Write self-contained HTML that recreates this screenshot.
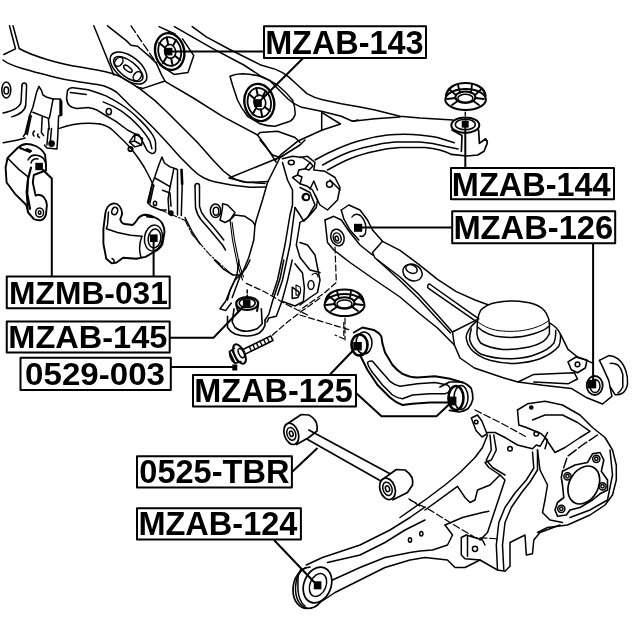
<!DOCTYPE html>
<html><head><meta charset="utf-8">
<style>
html,body{margin:0;padding:0;background:#fff;}
body{width:640px;height:640px;position:relative;overflow:hidden;}
svg{position:absolute;left:0;top:0;display:block;will-change:transform;}
text{font-family:"Liberation Sans",sans-serif;font-weight:bold;fill:#000;stroke:none;}
</style></head><body>
<svg width="640" height="640" viewBox="0 0 640 640" fill="none" stroke="#000" stroke-width="1.5" stroke-linecap="round" stroke-linejoin="round">
<!-- top-left rail end -->
<path d="M9.5,25.8 L15.5,48.8 L3.8,54.5"/>
<path d="M13,25.8 L19.2,48.5 C32,56 60,64 80,67 C92,69 101,70.5 111.3,73.3 C119,75.5 126,79.5 131.6,83.4 L141,89.7 L155,100.6 L167.5,112.5 L182.5,127.5 L197.5,142.5 L212.5,159.5 L223.4,171 L231.3,177.2 C236,180 240,181.5 243.8,181.9 L265,183.5"/>
<path d="M3,60 C10,66 30,71 56,77.5 C68,80.5 74,81 80,82 C90,83.5 97,84 103.4,85.8 C110,88 114,90 118,93.5 L130,105.5 L142.5,117 L155,129.5 L167.5,143 L180,157 L192.5,169.5 C197,174 200,176 204,178 C208,180 212,181.3 215.6,182 L231.3,185 L250,187.3 L266,187"/>
<path d="M93.8,25.8 L113.8,75"/>
<!-- ring -->
<ellipse cx="6.3" cy="90" rx="4.5" ry="8"/>
<ellipse cx="6.3" cy="90.5" rx="2.3" ry="3.6"/>
<!-- J curves -->
<path d="M21.9,86 C22,82 26.5,82 26.6,86 L25.8,104.4 C25.5,110 20,114.5 11.7,116.9"/>
<path d="M21.9,86 L21.1,101.3 C20.5,107 14,110.5 3.1,113"/>
<!-- bracket 1 -->
<path d="M23.4,136.4 L25,134 L29.7,115.3 L32.8,107.5 L36.7,91.9 L39,86.4 L41.4,90.3 L43,95 L46.9,97.3 L53.1,98.9 L60.2,98.9 L61.7,101.3 L61.7,115.3 L58.6,116 L57.8,135.6 L57,149 L46.9,148 L44.5,145"/>
<path d="M60.3,100 L60.3,115" stroke-width="2"/>
<path d="M53.1,98.9 L50,115.3 L49.2,118.4"/>
<path d="M29.7,115.3 L25.8,134 M31.2,115.8 L27.3,134.5"/>
<path d="M32.8,112.2 L48.4,118.4 L49.2,129.4"/>
<path d="M42.2,116.9 L41.4,132.5 L43.7,135.6"/>
<path d="M48.4,128.6 L46.9,145 M51.5,128.6 L50,145"/>
<circle cx="51.6" cy="143.6" r="2.6" fill="#000"/>
<path d="M34.5,131 C32.5,132 32.5,134.5 34,136 M38,134 C37,135.5 38,137 39.5,137.5"/>
<path d="M58.6,128.6 C70,124.5 83,122 100,124"/>
<path d="M3.1,142.7 C10,141.5 18,140.5 25,138"/>
<!-- guard piece -->
<path d="M67.5,90.6 C69,88 71,87.6 73.1,87.8 L88.1,89.7 C95,91.5 101,94 106.9,96.3 C114,100 120,103.5 125.6,107.5 C131,111.5 136,116 140.6,120.6 C145,125 149,129.5 151.9,133.8 C154,137 155.6,140 155.6,143.1 L155.6,150.6 C155,153 153.5,153.6 151.9,153.4 C150,153 148.5,152 147.2,150.6 L142.5,141.3 L138.8,134.7 L135,133.8"/>
<path d="M67.5,90.6 L66.6,98.1 C66.8,101.5 67.8,104 69.4,105.6 C71.5,107.5 74,108.2 76.9,108.4 L88.1,107.5 C91.5,108 94.5,109 97.5,110.3 L105,115 L116.3,121.6 L127.5,130 L135,133.8"/>
<path d="M103.1,101.9 C110,104.5 116,107.5 121.9,111.3 C128,115.5 133.5,120.5 138.8,126.3 C143,131 147,136 150,141.3 L151.9,148.8"/>
<path d="M70.3,92.5 L86.3,94.4"/>
<ellipse cx="108.8" cy="111.6" rx="2.6" ry="3.2"/>
<path d="M135,133.8 L142.5,138.4 L141.6,145 L135,146.9 L129.4,142.2 Z M135,133.8 L134.5,141 L141.6,145 M134.5,141 L129.4,142.2"/>
<circle cx="130.5" cy="149" r="2.2" stroke-width="1.8"/>
<!-- wheel-arch curve -->
<path d="M100,124 C106,125 112,129 116.3,133.8 C122,139 127,144 131.3,148.8 C136,155 140.5,161 144.4,167.5 C148,174 151,180 153.8,186.3"/>
<!-- lines top near bushing1 -->
<path d="M107.5,25.8 L126.3,40.6 L131,45.3 L137.5,46.3 L149.7,56.6 L156.3,63.1 L161.3,74.4 L165,81 L143.1,88.4 L137,87"/>
<path d="M131,25.8 L156.3,63" stroke-dasharray="8 3" stroke-width="1.3"/>
<path d="M159,26.6 L175,34"/>
<!-- mount plate oval -->
<g transform="translate(128.5,68) rotate(38)">
<ellipse rx="21.5" ry="11.5"/>
<ellipse rx="17.5" ry="8" cx="0.5" cy="1"/>
<ellipse cx="-11.5" cy="1" rx="3.6" ry="5"/>
<ellipse cx="12" cy="1" rx="3.6" ry="5"/>
<ellipse cx="0" cy="1" rx="5" ry="2.2"/>
</g>
<!-- bushing 1 -->
<path d="M182.5,38.8 L193.8,55.6 L188,72.5 L174,74.4 L160,65"/>
<g transform="translate(169.7,51.5) rotate(-12)">
<ellipse rx="14.5" ry="18.5" stroke-width="2.4"/>
<ellipse rx="11.3" ry="14.5" stroke-width="1.8"/>
<ellipse rx="5.5" ry="7.0" stroke-width="1.6" cx="0.5"/>
<path d="M-4,-5 L-8.5,-10.5 M4.5,-5 L8.5,-10 M-4.5,5 L-9,10 M4.5,5.5 L8.5,10.5 M0,-7 L0,-14.5 M0,7 L0,14.5" stroke-width="2"/>
</g>
<rect x="164.6" y="47.8" width="7.8" height="7.6" fill="#000" stroke="none"/>
<!-- bushing 2 -->
<path d="M230,76.3 C234,74.5 238,73.8 242.5,73.8 C249,74 255,75 260,76.3 C266,78.5 272,81.5 277.5,85 C283,89.5 288,94.5 292.5,100 C294.5,105 295.5,110 295,115 C294,118 292.5,120 290,121.3 L275,126.3 C270,126.3 265,125.5 260,123.8 L247.5,116.3 C243.5,111 240,105.5 237.5,100 L232.5,85 Z"/>
<g transform="translate(259.3,102.5) rotate(-12)">
<ellipse rx="14.8" ry="18.8" stroke-width="2.4"/>
<ellipse rx="11.600000000000001" ry="14.8" stroke-width="1.8"/>
<ellipse rx="5.800000000000001" ry="7.300000000000001" stroke-width="1.6" cx="0.5"/>
<path d="M-4,-5 L-8.5,-10.5 M4.5,-5 L8.5,-10 M-4.5,5 L-9,10 M4.5,5.5 L8.5,10.5 M0,-7 L0,-14.5 M0,7 L0,14.5" stroke-width="2"/>
</g>
<rect x="254" y="99.2" width="7.8" height="7.8" fill="#000" stroke="none"/>
<!-- cross member top edge -->
<path d="M165,81.3 L192.5,97.5 L222.5,116.3 L257.5,135 L260,132.5 L277.5,131.3 L295,137.5 L300,142.5"/>
<path d="M257.5,135 L265,145 L272.5,156.3 L276,162"/>
<!-- rail lines -->
<!-- triangle -->
<path d="M282.5,156.3 L229,178 L247.5,182.5 L268,181.5"/>
<!-- MZMB-031 left bushing -->
<path d="M17.8,147.8 C21,145 23.5,144 26.3,144 C30,144 33,144.8 35.6,146 C40,148 43,151 45,154.4 L46,163.8 L46,170.3 L33.8,175 L32.8,182.5 L35.6,195.6 L38.4,194.7 C41,195 43,196 44,197.5 C46,200 46.9,202 46.9,205 L46,214.4 C45,217.5 43.5,219.5 41.3,220 C38,220.5 35.5,220 33.8,219 L28.1,212.5 L26.3,205 L15,193.8 L6.6,182.5 L5.6,167.5 L7.5,158 Z" stroke-width="1.9"/>
<path d="M7.5,158 L18.8,169.4 L28.1,176.9 L26.3,191.9 L28.1,212.5"/>
<path d="M31,167.5 L28.1,178.8 L27.2,193.8 L30,208.8" stroke-width="2.2"/>
<path d="M28,160 C30,156 34,154.5 38,155.5 C42,156.5 44.5,159 45,162 M31,163 C32,160 35,158.5 38,159"/>
<path d="M20,148 L30,152 M27,149 L31,151" stroke-width="2"/>
<rect x="35.3" y="162.8" width="7.6" height="7.4" fill="#000" stroke="none"/>
<ellipse cx="39.6" cy="212.5" rx="4" ry="4.6"/>
<ellipse cx="39.6" cy="212.5" rx="1.3" ry="1.8"/>
<!-- MZMB-031 right bushing -->
<path d="M105.3,213.8 C105.8,209 108.5,204 113.8,203.4 C118,203.3 121.5,207 122.2,213.8 L120.3,219.4 C121,222 122.5,223.5 125,224 L132.5,225 C135,223.5 136.5,221 138.1,218.4 C140,216 142.5,214.8 145.6,214.7 C149,214.7 152,215.8 155,217.5 C158.5,219 161,221 162.5,224 C164,227 164.6,229.5 164.4,232.5 L162.5,243.8 C161,247 158.5,249.5 155,251.3 L145.6,256.9 L136.3,258.8 L123.1,257.8 L116.6,262.5 L111.9,263.4 L106.3,258.8 L103.4,243.8 L103.4,228.8 Z" stroke-width="1.9"/>
<ellipse cx="114.7" cy="211" rx="2.8" ry="3.8" transform="rotate(20 114.7 211)"/>
<path d="M108.5,212 L107.5,225 L106.3,228.8 L117.5,232.5 L130.6,235.3 L141.9,236.3"/>
<path d="M141.9,236.3 C139,244 139,251 141,257"/>
<path d="M145.6,214.7 L150,217 M147,216.5 L153,217.2" stroke-width="2"/>
<ellipse cx="153.5" cy="238" rx="9" ry="13" transform="rotate(8 153.5 238)"/>
<ellipse cx="154.5" cy="238.5" rx="6.3" ry="9.5" transform="rotate(8 154.5 238.5)"/>
<rect x="150" y="234.4" width="7.6" height="7.6" fill="#000" stroke="none"/>
<path d="M112,258.5 C113.5,259 114.5,260.5 114,262"/>
<!-- bracket 2 -->
<path d="M166.3,210 L160.6,210 L151.3,206.3 L147.5,202.5 L152.2,183.8 L155,176.3 L158.8,165 L162,157 L164.4,163 L170,166.9 L175.6,168.8 L177.5,169.7 L177.5,215"/>
<path d="M173.8,168.8 L170,187.5 L168.1,198.8 L169,213.8 L171.9,215.6"/>
<path d="M181.5,168.8 L182.2,184.7" stroke-width="2.6" stroke-linecap="butt"/>
<path d="M182.2,184.7 L181.3,215.6"/>
<path d="M152.2,184.7 L148.4,202.5 M153.8,185.2 L150,203"/>
<path d="M155,178 L170,186.6"/>
<path d="M162.5,190.3 L170,193 L171,206.3"/>
<ellipse cx="155" cy="203.4" rx="1.6" ry="2.2"/>
<circle cx="171" cy="213" r="2" fill="#000"/>
<path d="M160.6,210 L185,220.3" stroke-dasharray="6 2 1.5 2" stroke-width="1.1"/>
<path d="M185,217.5 L192.5,232.5 L200,243.8"/>
<!-- trailing arm bracket region -->
<path d="M280,157.5 L267.5,182.5 L262.5,200 L256.3,220 L255,225"/>
<path d="M282.5,162.5 L287.5,180 L292.5,190 L292.5,205 L290,215 L285,245 L277.5,280 L272.5,295"/>
<path d="M295,207.5 L290,245 L282.5,280 L277.5,295"/>
<path d="M282.5,158.8 L292.5,156.3 L302.5,157.5 L310,162.5 L305,168.8 L298.8,170 L297.5,175 L292.5,177.5 L300,183.8 L307.5,186.3 L312.5,190 L317.5,200 L316.3,207.5 L310,215 L303.8,221.3 L300,215 L295,207.5"/>
<path d="M310,162.5 L313,166 L309,170 L305,168.8 M297.5,175 L302,177 L300,183.8"/>
<ellipse cx="291.3" cy="162.5" rx="3" ry="2.2"/>
<circle cx="305.8" cy="197" r="3.6"/>
<path d="M310,189 L313.8,181 L317.5,190"/>
<path d="M300,222.5 L296.3,245 L300,257.5 L310,270 L320,272.5"/>
<path d="M230,220 L235,215 L245,216.3 L252.5,221.3 L255,225 L253.8,240 L248.8,257.5 L242.5,272.5 L235,280 L230,290 L227.5,300"/>
<path d="M230,220 L232.5,240 L237.5,265 L242.5,280 M232,222 L234.5,240 L239.5,265 L243.5,277" stroke-width="1.1"/>
<path d="M222.5,203.8 L227.5,205 L235,212.5 L230,220 L225,222.5 L220,220 L221.3,215 L222.5,207.5 Z"/>
<ellipse cx="215.5" cy="210.8" rx="5.2" ry="6.8"/>
<ellipse cx="216" cy="211.2" rx="2.8" ry="4"/>
<path d="M195,186 C195,182.5 199.5,182.5 199.5,186 L199.5,206.3 C200.5,211 202.5,214.5 205,217.5 L213.8,227.5 L223.8,240"/>
<path d="M195,186 L195.5,207.5 C196.5,212.5 198.5,216.5 201.3,220 L210,230 L222.5,245 L225.5,250"/>
<path d="M185,220.3 L192.5,235 L210,255 L232.5,275" stroke-dasharray="7 2 1.5 2" stroke-width="1.1"/>
<path d="M260,140 L272.5,155 L280,157.5 L300,145 L305,140"/>
<path d="M312,275 C314,272 318,273 318,277 M296,285 L296,295 C300,296 302,292 300,287 Z" stroke-width="1.1"/>
<!-- upper arm -->
<path d="M315,160 C322,156 330,152 337.5,148.8 C346,145 354,142 362.5,140 C371,137.5 379,136 387.5,135 C396,134.3 404,134.2 412.5,134.5 C421,135 430,136 437.5,137.5 L454.4,142.7"/>
<path d="M322.5,165 C330,161 337,157 345,153.8 C353,150.5 362,148 370,146.3 C378,144 387,142.5 395,142 L420,142 C428,142.5 437,144 445,146.3 L458,149"/>
<path d="M327.5,170 C335,166 342,162 350,158.8 C358,155.5 367,153 375,151.3 C383,149.3 392,148 400,147.5 L425,147.5 C433,148.3 442,149.5 451.3,154.4"/>
<!-- bracket with holes right part -->
<path d="M300,157.5 L307.5,156.3 L315,162.5 L313.8,170 L325,171.3 L335,177.5 L340,187.5 L337.5,200 L327.5,210 L320,205 L315,195"/>
<circle cx="329.5" cy="184.3" r="3"/>
<!-- nut 144 -->
<ellipse cx="465.6" cy="99.5" rx="20.3" ry="10.5" stroke-width="2"/>
<path d="M446,96 C447,88 455,83 465.6,83 C476,83 485,88 485.5,96" stroke-width="2.2"/>
<ellipse cx="465.4" cy="97.3" rx="10" ry="5.8" stroke-width="2"/>
<ellipse cx="465.4" cy="98.3" rx="7.5" ry="4"/>
<path d="M450,90 L456,95 M458,85 L460,92.5 M472,84.5 L471,92.5 M481,89.5 L475,95 M447,99 L455.5,98 M484,99 L475.5,98 M452,105 L457,101.5 M479,105 L474,101.5" stroke-width="1.8"/>
<!-- bushing 144 -->
<ellipse cx="465.3" cy="125.2" rx="14" ry="7.8" stroke-width="2"/>
<ellipse cx="465.3" cy="124.5" rx="10" ry="5.3"/>
<path d="M452,130 L462,135.6 L461.4,151.3 M478.6,130 L479.4,143.4 L485.6,138.8 C487,140 487.5,141.5 487.2,143.4 L484,151.3 L477.8,155 L466.9,156 L451.3,154.4" stroke-width="1.7"/>
<path d="M465.3,112.2 L465.3,120" stroke-dasharray="3 2"/>
<rect x="461.7" y="120.6" width="7" height="7" fill="#000" stroke="none"/>
<!-- lower arm 126 -->
<path d="M325,220 L327.5,242.5 L333.8,250 L350,262.5 L375,280 L400,297 L418.8,313 L437.5,328 L450.6,341.3 L454.4,345"/>
<path d="M325,220 L333.8,216.3 L341.3,220 L350,232.5 L360,245 L372.5,255"/>
<ellipse cx="337.5" cy="237.5" rx="6.5" ry="8.5" transform="rotate(-20 337.5 237.5)"/>
<ellipse cx="337.2" cy="238" rx="3.8" ry="5.2" transform="rotate(-20 337.2 238)"/>
<ellipse cx="336.8" cy="238.5" rx="1.6" ry="2.4" transform="rotate(-20 336.8 238.5)"/>
<path d="M341.3,210 L348.8,205 L360,210 L367.5,220 L372.5,230 L382.5,241.3 L372.5,252.5 L375,258 L400,277 L418.8,294.4 L437.5,315 L452.5,332"/>
<path d="M341.3,210 L343.8,218.8 L350,230 L358.8,240"/>
<path d="M352,217 C354,213.5 358,213.5 361,216 C365,220 367,227 365.5,233 C364.5,236 362,237 360,236"/>
<path d="M382.5,241.3 L400,250.3 L418.8,264.4 L437.5,279.4 L456.3,291.6 L475,300 L488,304.7"/>
<path d="M377,259.5 L400,280.5 L418,298 L436,317.5 L450.5,333"/>
<ellipse cx="412.5" cy="272.5" rx="10" ry="8" transform="rotate(25 412.5 272.5)"/>
<ellipse cx="411.5" cy="269" rx="6" ry="4" transform="rotate(25 411.5 269)"/>
<rect x="354" y="223.8" width="8.2" height="8" fill="#000" stroke="none"/>
<path d="M335,247 L336.3,282.5 L325,292.5 L300,310" stroke-dasharray="6 3" stroke-width="1.2"/>
<path d="M300,315 L325,322.5 L350,330" stroke-dasharray="6 3" stroke-width="1.2"/>
<path d="M345,318 L345,340" stroke-dasharray="6 3" stroke-width="1.2"/>
<!-- nut 2 -->
<ellipse cx="344.5" cy="305" rx="20" ry="11" stroke-width="2"/>
<path d="M325.5,302 C326,294 334,289.5 344.5,289.5 C355,289.5 363,294 363.5,302" stroke-width="2.2"/>
<ellipse cx="344.5" cy="303" rx="10" ry="5.8" stroke-width="2"/>
<ellipse cx="344.5" cy="304" rx="7.5" ry="4"/>
<path d="M329,296 L335,301 M337,291 L339,298.5 M351,290.5 L350,298.5 M360,295.5 L354,301 M326,305 L334.5,304 M363,305 L354.5,304 M331,311 L336,307.5 M358,311 L353,307.5" stroke-width="1.8"/>
<!-- left bracket lower pieces -->
<path d="M300,242.5 L307.5,245 L315,255 L320,280 L317.5,292.5 L310,297.5 L300,305"/>
<ellipse cx="311" cy="285" rx="3" ry="4.5"/>
<path d="M300,187.5 L310,192.5 L315,205 L307.5,217.5 L300,222.5"/>
<circle cx="306.3" cy="197.3" r="3"/>
<path d="M330,180 L340,190"/>
<!-- spring seat dome -->
<path d="M476.9,333.8 L477.5,321.3 C478,316 479,313 480.6,310.3 C485,306 490,303.5 496.3,302.5 C502,301.2 508,300.8 513.4,301 C521,301.2 528,302.2 533.8,304 C539.5,306 544,309 546.3,313.4 C548.5,317 549.4,320.5 549.4,324.4 L549.4,333.8 C548,337 546,339.5 543,341.6 C537,345 531,347 524.4,347.8 C517,349.3 509.5,349.8 502.5,349.4 C494,348.5 486,346.5 480.6,343 C478.5,340.5 477.2,337.5 476.9,333.8"/>
<path d="M477.5,327 C484,333 493,336.5 502.5,337 C513,338 524,337 533.8,333.8 C540,332 545.5,329.5 549.4,326"/>
<path d="M477.5,321.5 C484,327 493,330.5 502.5,331 C513,332 524,331 533.8,328 C540,326 545.5,323.5 549.4,320" stroke-width="1"/>
<path d="M477,320.6 C471,326 466.5,331 466.2,337 C466.5,342 468.5,346 471.3,349.4 C476,354.5 482.5,358 490,360.3 C498,362.5 506.5,363.5 515,363.4 C524,363 532.5,361.5 540,358.8 C548,355.5 554.5,351.5 558.8,346.3 C560.5,342 561,338 560.3,333.8 C558,329 554.5,325.5 549.4,322.8"/>
<path d="M471.3,329 C470,333 469.5,336.5 469.7,340 C471.5,346 475,350.5 480.6,354 C490,357.5 501,359 511.9,358.8 C521,358.5 529.5,357 536.9,354 C544,351.5 550,348 554,343 C555.5,339 556,335 555.6,330.6"/>
<!-- arm outline near seat -->
<path d="M477,319.7 L452.5,332 L454.4,345 L460,358 L474.4,368 L502.5,377.5 L518,382 L543,385.3 L571.3,388.4 L586.9,397.8 L602.5,404 L611.9,396.3 L608.8,380.6 L602.5,366.6 L599.4,360.3"/>
<path d="M560.3,333.8 L568,349.4 L577.5,357 L586.9,360.3 L593,363.4"/>
<path d="M518,382 L533.8,374.4 L574.4,372.8 L577.5,379 L568,383.8 L533.8,382"/>
<path d="M568,361.9 L576,357 L587,360.3 L585.3,368 L577.5,372.8 L571.3,369.7 Z" stroke-width="1.6"/>
<circle cx="577.5" cy="364.4" r="2.3"/>
<!-- bushing 126 right -->
<ellipse cx="594.7" cy="385.5" rx="8" ry="9.5" stroke-width="1.8"/>
<ellipse cx="595" cy="386" rx="5" ry="6.5"/>
<path d="M599.4,360.3 L608.8,355.6 C612,355.8 615.5,357 618,358.8 C622,362 624.5,366.5 626,371.3 C627.3,375.5 627.8,379.5 627.5,383.8 C627,388 625,391 622.8,393 C620,394.5 617.5,395 615,394.7 L610.3,387"/>
<path d="M610.3,363.4 C613,363.2 615.8,363.8 618,365 C620.5,367.5 622,370.5 622.8,374.4 L622.8,387 C621.5,389.5 620,391.5 618,393"/>
<rect x="587.6" y="379.8" width="8.6" height="8.6" fill="#000" stroke="none"/>
<!-- 125 right bushing -->
<path d="M440,387 L449.4,382 L461.9,382 C466,383.5 469,385.5 471.3,388.4 C472.5,392 473,395.5 472.8,399.4 C472,403 470.5,406 468,408.8 C465,410.8 462,411.8 458.8,412 L449.4,410.3" stroke-width="1.7"/>
<ellipse cx="456" cy="398" rx="7.5" ry="12" stroke-width="2.6"/>
<ellipse cx="461" cy="397.5" rx="7" ry="12"/>
<rect x="447.8" y="396.6" width="8.6" height="8.8" fill="#000" stroke="none"/>
<!-- knuckle top -->
<path d="M471.3,418 L477.5,415 L482,421.3 L486.9,433.8 L482,437 L476,430.6 Z"/>
<circle cx="476.2" cy="422" r="1.8"/>
<!-- bushing 145 area -->
<path d="M238.8,260 L237,275 L230.3,290 L225.6,301.3 L220,308.8 L225.6,310.6 L231.3,303"/>
<path d="M250,260 L246.3,267.5 L240.6,275 L235,290 L232.2,297.5"/>
<path d="M214.4,260 L223.8,269.4 L233,275 L240.6,275"/>
<path d="M283.8,260 L280,278.8 L272.5,301.3 L268.8,314.4 L265,320"/>
<path d="M292.2,260 L287.5,280.6 L281.9,301.3 L276.3,316.3 L268.8,318 L267,322"/>
<path d="M295,263.8 L302.5,273 L304.4,288 L303.4,301.3 L295,306 L281.9,301.3"/>
<path d="M292.2,287.2 L292.2,298.4 L297.8,297.5 C299.5,295 299.5,293.5 298.8,291.9 Z"/>
<path d="M234,308.8 L232.2,322 L235,327.5 C238.5,330 242,331.2 246.3,331.3 C250.5,331.2 254,330.2 257.5,328.5 L262.2,323.8 L261.3,308.8" stroke-width="1.6"/>
<path d="M227.5,316.3 L227.5,327.5 C229.5,330.5 232,332.5 235,334 C239,335.5 243.5,336.2 248,336 C252,335.8 256,334.8 259.4,333 C262,331 264,328.5 265,325.6 L265,320" stroke-width="1.6"/>
<ellipse cx="247.2" cy="303.5" rx="11" ry="6.5" stroke-width="2.2"/>
<ellipse cx="247.2" cy="303" rx="8" ry="4.5" stroke-width="1.6"/>
<path d="M236.5,306 L238,311 M258,306 L257,311" stroke-width="2"/>
<rect x="242.9" y="299.3" width="7.6" height="7.6" fill="#000" stroke="none"/>
<path d="M247.2,290 L247.2,299" stroke-dasharray="3 2"/>
<path d="M246.3,283.4 L265,292 L283.8,303 L310,316.3" stroke-dasharray="6 3" stroke-width="1.2"/>
<path d="M272.5,335 L287.5,322 L302.5,310.6 L320,298" stroke-dasharray="6 3" stroke-width="1.2"/>
<!-- bolt 0529-003 -->
<g transform="translate(239.5,354) rotate(-26)">
<ellipse cx="0" cy="0" rx="5" ry="10.5" stroke-width="2"/>
<path d="M-2,-7.5 L-8,-6.5 L-9.5,-2 L-9.5,3 L-8,6.5 L-2,7.5 M-8,-6.5 L-8,6.5 M-5,-7 L-5,7" stroke-width="1.6"/>
<path d="M5,-2.6 L36,-2.6 L36,2.6 L5,2.6" stroke-width="1.6"/>
<path d="M12,-2.6 L12,2.6 M16,-2.6 L16,2.6 M20,-2.6 L20,2.6 M24,-2.6 L24,2.6 M28,-2.6 L28,2.6 M32,-2.6 L32,2.6" stroke-width="1.3"/>
<ellipse cx="2" cy="0" rx="2.5" ry="5"/>
</g>
<rect x="232.3" y="364.5" width="5" height="6" fill="#000" stroke="none"/>
<!-- MZAB-125 arm -->
<path d="M353.8,332.5 L362.5,327.5 L373.8,330 C377,331.5 379.5,333.5 381.3,336.3 L382.5,343.8 L385,352.5 L392.5,365 C395.5,368.5 398.5,371.5 402.5,373.8 C407,376 412,377.3 417.5,377.5 L435,376.3 L450,378.8 L462.5,382.5" stroke-width="2"/>
<path d="M360,355 L367.5,370 L377.5,385 L390,397.5 C394,401 398,403.5 402.5,405 L412.5,403.8 L430,402.5 L447.5,402.5" stroke-width="2"/>
<path d="M367.5,362.5 C369,361 371,360.8 372.5,361.3 L380,370 L390,381.3 C393,383.8 396.5,385.5 400,386.3 L417.5,383.8 L435,382.5 L447.5,385 C449.5,386.5 450.3,388 450,390 C449,392 447.5,393.3 445,393.8 L430,393.8 L412.5,395 L402.5,398.8 C399,398.3 395.5,397 392.5,395 L382.5,385 L372.5,372.5 C370,369 368,366 367.5,362.5 Z"/>
<ellipse cx="359.5" cy="345" rx="8" ry="10.5" stroke-width="2.6"/>
<ellipse cx="364" cy="343" rx="8" ry="11"/>
<rect x="353.2" y="342" width="8.6" height="8.4" fill="#000" stroke="none"/>
<path d="M343.8,322.5 L343.8,338.8 L335,335" stroke-dasharray="5 3" stroke-width="1.2"/>
<!-- 0525-TBR rod -->
<ellipse cx="291.3" cy="433.8" rx="7" ry="11" transform="rotate(-18 291.3 433.8)" stroke-width="1.7"/>
<ellipse cx="291.3" cy="433.8" rx="4.3" ry="6.5" transform="rotate(-18 291.3 433.8)"/>
<ellipse cx="291.3" cy="433.8" rx="1.8" ry="2.8" transform="rotate(-18 291.3 433.8)"/>
<path d="M288.5,423 L301.3,414.5 L308.8,415 C312,416.5 314.5,419 316.3,422.5 C317.3,425.5 317.5,428 317,431 L308.8,437.5 L296.5,444.5" stroke-width="1.7"/>
<path d="M308.8,430 L390,473.8 M306.3,438.8 L380,480.5" stroke-width="1.6"/>
<ellipse cx="387.5" cy="488.8" rx="7.5" ry="11" transform="rotate(-18 387.5 488.8)" stroke-width="1.7"/>
<ellipse cx="387.5" cy="488.8" rx="4.5" ry="6.8" transform="rotate(-18 387.5 488.8)"/>
<ellipse cx="387.5" cy="488.8" rx="2" ry="3" transform="rotate(-18 387.5 488.8)"/>
<path d="M384.5,478 L396.3,469.5 L405,470 C408,472 410.5,474.5 412,477.5 C412.8,480 413,482.5 412.5,485 L407.5,492.5 L393,499.8" stroke-width="1.7"/>
<path d="M408.8,498.8 L420,506.3" stroke-dasharray="5 3" stroke-width="1.2"/>
<!-- MZAB-124 bushing + trailing arm -->
<ellipse cx="317.5" cy="585" rx="13.5" ry="18.5" transform="rotate(22 317.5 585)" stroke-width="1.7"/>
<ellipse cx="318" cy="585" rx="8" ry="12" transform="rotate(22 318 585)"/>
<path d="M310,567 C300,568 293,578 293,590 C293,601 299,608 307,608.5 C312,608.5 317,606.5 320,602.5" stroke-width="1.7"/>
<path d="M306,567.5 C298,571 295.5,580 295.5,590 C296,599 300,606 307,608" />
<path d="M302,568.5 C297,572 298,580 298,590 C298.5,598 301,603 305,606"/>
<rect x="313.8" y="581.3" width="7.6" height="8" fill="#000" stroke="none"/>
<path d="M306.3,565 L322.5,557.5 L360,545 L390,530 L410,517.5 L425,507"/>
<path d="M327.5,562.5 L360,555 L385,542.5 L405,530 L425,520"/>
<path d="M332.5,580 L360,567.5 L385,557.5 L410,552.5 L420,551 L432.5,550 L447.5,545 L452.5,535 L445,525"/>
<path d="M320,602.5 L335,592.5 L360,580 L385,567.5 L410,560 L425,557.5 L447.5,560 L455,567.5 L465,567.5 L475,562.5 L480,560 L497.5,570 L505,571.3 L510,566.3 L510,542.5 L520,537.5 L525,535 L526.3,555 L532.5,553.8 L533.8,540 L540,532.5 L560,525"/>
<ellipse cx="410" cy="540" rx="1.6" ry="2.2"/><ellipse cx="421.3" cy="533.8" rx="1.6" ry="2.2"/>
<!-- knuckle -->
<path d="M487.5,432.5 L495,432.5 L505,437.5 L517.5,445 L532.5,448.8 L536.3,445 L540,446.3 L543.8,440 L547.5,432.5"/>
<path d="M487.5,435 L482.5,447.5 L475,457.5 L460,472.5 L445,485 L425,500 L400,517.5"/>
<path d="M493.8,435 L496.3,450 L491.3,460 L485,462.5 L488.8,467.5 L500,475 L505,480 L500,495 L492.5,517.5 L487.5,532.5 L480,540"/>
<path d="M425,510 L457.5,486.3 L465,497.5 L470,502.5 L475,500 L477.5,490 L490,485 L500,475"/>
<path d="M445,525 L462.5,517.5 L482.5,512.5 L488.8,511.3"/>
<path d="M410,500 L430,510 L450,522.5 L475,537.5 L497.5,538.8" stroke-dasharray="7 3" stroke-width="1.2"/>
<path d="M475,410 L500,422.5 L527.5,437.5" stroke-dasharray="7 3" stroke-width="1.2"/>
<path d="M461.3,537.5 L466.3,535 L482.5,540 L485,545 M461.3,537.5 L461.3,555 L465,558.8 L480,560 M467.5,536.3 L467.5,556.3"/>
<circle cx="475" cy="548.8" r="2.6"/>
<path d="M497.5,570 L496.3,545 L498.8,522.5 L505,507.5 L515,493 L526.3,480 L533.8,468 L532.5,452"/>
<path d="M503.8,570 L502.5,545 L505,522.5 L511.3,507.5 L521.3,493 L530,482 L537.5,470 L537.5,450"/>
<path d="M490,435 L491.3,450 L486.3,460 L492.5,467.5 L505,475"/>
<path d="M517.5,410 L518.8,425 L526.3,427.5 L541.3,433.8 L547.5,440 L545,448.8"/>
<path d="M517.5,410 L527.5,403.8 L545,401.3 L562.5,405 L580,415 L592.5,427.5 L605,437.5 L612.5,450 L616.3,465 L616.3,480 L612.5,495 L605,505 L590,515 L567.5,525 L547.5,527.5 L537.5,532.5"/>
<path d="M532.5,420 L545,415 L562.5,415 L577.5,422.5 L590,431.3 L580,437.5 L565,447.5 L555,452.5 L550,445 L545,437.5"/>
<path d="M597.5,435 L582.5,445 L567.5,456.3 L562.5,471.3" stroke-dasharray="10 3"/>
<path d="M610,450 L612.5,475 L607.5,500 L590,510 L570,517.5"/>
<path d="M537.5,450 L540,470 L547.5,485 L545,500 L542.5,512.5 L550,520 L562.5,522.5"/>
<circle cx="531.3" cy="407.5" r="1.6" fill="#000"/><circle cx="536.3" cy="433.8" r="2.3"/><circle cx="510" cy="448.8" r="2.3"/>
<!-- hub flange -->
<path d="M562.5,471.3 L575,465 L587.5,462.5 L592.5,453.8 L600,452.5 L603.8,460 L601.3,471.3 L607.5,480 L607.5,490 L600,493.8 L592.5,500 L580,507.5 L570,510 L566.3,515 L557.5,516.3 L555,510 L557.5,502.5 L563.8,497.5 L562.5,485 L561.3,477.5 Z" stroke-width="1.6"/>
<ellipse cx="583.8" cy="485" rx="14.5" ry="20" transform="rotate(28 583.8 485)" stroke-width="1.7"/>
<circle cx="596.3" cy="458.8" r="3.6"/><circle cx="596.3" cy="458.8" r="1.7"/>
<circle cx="567.5" cy="476.3" r="3.6"/><circle cx="567.5" cy="476.3" r="1.7"/>
<circle cx="602.5" cy="486.3" r="3.6"/><circle cx="602.5" cy="486.3" r="1.7"/>
<circle cx="561.3" cy="508.8" r="3.6"/><circle cx="561.3" cy="508.8" r="1.7"/>
<!-- leaders -->
<g stroke-width="2" stroke-linecap="butt" stroke-linejoin="miter">
<path d="M172,51.5 L264,51.5"/>
<path d="M261,100 L303.5,57.8"/>
<path d="M465.3,127 L465.3,168"/>
<path d="M362,227.6 L452,227.6"/>
<path d="M593.1,243 L593.1,380"/>
<path d="M42.5,169.5 L51.8,178.5 L51.8,276.6"/>
<path d="M153.6,242 L153.6,276.6"/>
<path d="M170,337.7 L213.5,337.7 L243.5,306.5"/>
<path d="M171,367 L233,367"/>
<path d="M353.5,350 L330,374.5"/>
<path d="M355.5,392.5 L381.5,416.3 L436.5,416.3 L449,404.5"/>
<path d="M292,472 L317.5,448"/>
<path d="M274,540 L314.5,582.5"/>
</g>
<!-- arm top lines -->
<path d="M192.2,26.6 L206.3,36.9 L228.8,49 L260,64.7 L275.6,69.4 C281,71.5 285,74 288,76.4 L297.5,85 L306.9,93.6 C312,96.5 317,98.5 322.5,99.8 L341.3,103.8 L360,106.9 L375,110 L400,116.3 L420,118 L452.8,120"/>
<path d="M174.4,26.6 L211.9,48.1 L243.8,65 L260,75.6 L269.4,80.3 L278.8,89.7 L288,99 C292,102.5 296,105 300.6,106.9 L322.5,111.6 L341.3,116.3 L352.5,121.3 L375,118.8 L400,117"/>
<path d="M321.7,112.3 L340.5,124 L321.7,130.3 Z"/>
<path d="M321.7,130.3 L297.5,141.3 L281.9,153.8 L275.6,160"/>
<path d="M352.5,121.3 L358,120"/>
<!-- slot on arm 126 -->
<path d="M478.8,318.8 L429.5,284 C427.5,284 427,287.5 428.5,288.3 L475,320.6"/>

<g id="labels">
<rect x="264.00" y="26.30" width="162.00" height="31.70" fill="#fff" stroke="#000" stroke-width="2"/>
<text x="265.13" y="54.20" font-size="33.36" textLength="158.44" lengthAdjust="spacingAndGlyphs">MZAB-143</text>
<rect x="451.00" y="168.00" width="163.00" height="31.30" fill="#fff" stroke="#000" stroke-width="2"/>
<text x="451.83" y="195.60" font-size="33.43" textLength="158.85" lengthAdjust="spacingAndGlyphs">MZAB-144</text>
<rect x="452.20" y="211.30" width="163.00" height="31.90" fill="#fff" stroke="#000" stroke-width="2"/>
<text x="453.41" y="238.70" font-size="32.70" textLength="159.77" lengthAdjust="spacingAndGlyphs">MZAB-126</text>
<rect x="6.75" y="276.60" width="162.95" height="31.60" fill="#fff" stroke="#000" stroke-width="2"/>
<text x="9.08" y="304.00" font-size="31.54" textLength="158.81" lengthAdjust="spacingAndGlyphs">MZMB-031</text>
<rect x="6.75" y="321.50" width="162.95" height="31.00" fill="#fff" stroke="#000" stroke-width="2"/>
<text x="8.33" y="348.30" font-size="31.54" textLength="158.98" lengthAdjust="spacingAndGlyphs">MZAB-145</text>
<rect x="20.50" y="357.80" width="150.30" height="32.10" fill="#fff" stroke="#000" stroke-width="2"/>
<text x="25.09" y="385.30" font-size="31.40" textLength="139.91" lengthAdjust="spacingAndGlyphs">0529-003</text>
<rect x="193.00" y="375.00" width="163.00" height="31.60" fill="#fff" stroke="#000" stroke-width="2"/>
<text x="194.33" y="402.30" font-size="33.14" textLength="158.57" lengthAdjust="spacingAndGlyphs">MZAB-125</text>
<rect x="137.00" y="456.30" width="154.90" height="31.10" fill="#fff" stroke="#000" stroke-width="2"/>
<text x="139.31" y="483.30" font-size="32.99" textLength="150.10" lengthAdjust="spacingAndGlyphs">0525-TBR</text>
<rect x="137.00" y="508.30" width="163.90" height="31.30" fill="#fff" stroke="#000" stroke-width="2"/>
<text x="138.42" y="535.30" font-size="33.14" textLength="159.05" lengthAdjust="spacingAndGlyphs">MZAB-124</text>
</g>
</svg>
</body></html>
